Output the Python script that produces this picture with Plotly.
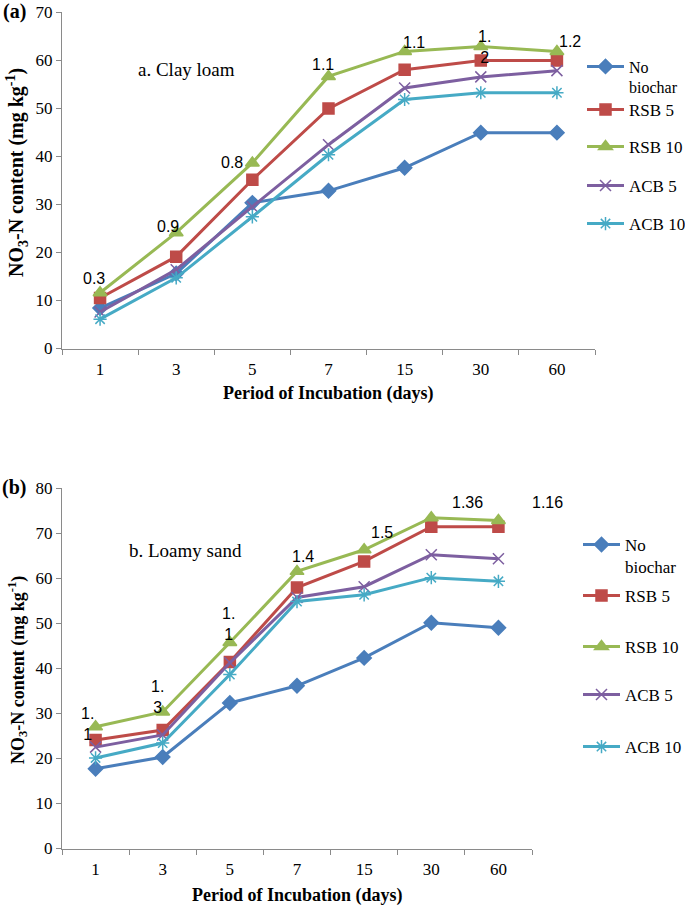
import plotly.graph_objects as go

days = ["1", "3", "5", "7", "15", "30", "60"]
series_names = ["No<br>biochar", "RSB 5", "RSB 10", "ACB 5", "ACB 10"]

# a. Clay loam
clay_no_biochar = [8.4, 15.6, 30.3, 32.8, 37.6, 44.9, 44.9]
clay_rsb5 = [10.5, 19.1, 35.1, 49.9, 58.0, 59.9, 59.9]
clay_rsb10 = [11.6, 24.1, 38.6, 56.6, 61.8, 62.8, 61.8]
clay_acb5 = [7.6, 16.4, 29.5, 42.4, 54.2, 56.5, 57.8]
clay_acb10 = [6.1, 14.7, 27.4, 40.3, 51.8, 53.2, 53.2]
clay_labels = ["0.3", "0.9", "0.8", "1.1", "1.1", "1.<br>2", "1.2"]

# b. Loamy sand
sand_no_biochar = [17.7, 20.3, 32.3, 36.1, 42.3, 50.1, 49.0]
sand_rsb5 = [24.1, 26.3, 41.4, 57.9, 63.7, 71.4, 71.4]
sand_rsb10 = [27.0, 30.3, 45.7, 61.5, 66.3, 73.4, 72.8]
sand_acb5 = [22.5, 25.2, 41.2, 55.7, 58.1, 65.2, 64.3]
sand_acb10 = [20.1, 23.4, 38.6, 54.8, 56.3, 60.1, 59.3]
sand_labels = ["1.<br>1", "1.<br>3", "1.<br>1", "1.4", "1.5", "1.36", "1.16"]

W, H = 685, 906
def px(x):
    return x / W
def py(y):
    return 1 - y / H

colors = ["#4A7EBB", "#BE4B48", "#98B954", "#7D5FA0", "#46AAC5"]
symbols = ["diamond", "square", "triangle-up", "x-thin-open", "asterisk-open"]
msizes = [11, 11, 12, 11, 11]

serif = "Liberation Serif"
sans = "Liberation Sans"

fig = go.Figure()

clay_sets = [clay_no_biochar, clay_rsb5, clay_rsb10, clay_acb5, clay_acb10]
sand_sets = [sand_no_biochar, sand_rsb5, sand_rsb10, sand_acb5, sand_acb10]

for i, vals in enumerate(clay_sets):
    lg = "legend" if i == 0 else f"legend{i+1}"
    fig.add_trace(go.Scatter(
        x=days, y=vals, name=series_names[i], mode="lines+markers",
        line=dict(color=colors[i], width=3),
        marker=dict(symbol=symbols[i], size=msizes[i], color=colors[i],
                    line=dict(color=colors[i], width=1.5)),
        xaxis="x", yaxis="y", legend=lg, showlegend=True))

for i, vals in enumerate(sand_sets):
    lg = f"legend{i+6}"
    fig.add_trace(go.Scatter(
        x=days, y=vals, name=series_names[i], mode="lines+markers",
        line=dict(color=colors[i], width=3),
        marker=dict(symbol=symbols[i], size=msizes[i], color=colors[i],
                    line=dict(color=colors[i], width=1.5)),
        xaxis="x2", yaxis="y2", legend=lg, showlegend=True))

axis_common = dict(showline=True, linecolor="#8A8A8A", linewidth=1, ticks="outside",
                   ticklen=5, tickcolor="#8A8A8A", showgrid=False, zeroline=False,
                   tickfont=dict(family=serif, size=17, color="black"))

fig.update_layout(
    width=W, height=H, margin=dict(l=0, r=0, t=0, b=0, autoexpand=False),
    paper_bgcolor="white", plot_bgcolor="white", showlegend=True,
    xaxis=dict(domain=[px(62), px(595)], anchor="y", type="category",
               range=[-0.5, 6.5], tickson="boundaries", ticklabelstandoff=5, **axis_common),
    yaxis=dict(domain=[py(348.5), py(12)], anchor="x", range=[0, 70], dtick=10, **axis_common),
    xaxis2=dict(domain=[px(62), px(532)], anchor="y2", type="category",
                range=[-0.5, 6.5], tickson="boundaries", ticklabelstandoff=5, **axis_common),
    yaxis2=dict(domain=[py(848.5), py(488)], anchor="x2", range=[0, 80], dtick=10, **axis_common),
)

# legends, one per entry to match spacing
top_leg_y = [77, 110, 147, 186, 224]
bot_leg_y = [556, 596, 647, 695, 747]
top_leg_size = [16, 17, 17, 17, 17]
for i in range(5):
    key = "legend" if i == 0 else f"legend{i+1}"
    fig.update_layout({key: dict(x=px(582), y=py(top_leg_y[i]), xanchor="left", yanchor="middle",
                                 xref="container", yref="container",
                                 valign="top", itemwidth=37, bgcolor="rgba(0,0,0,0)",
                                 font=dict(family=serif, size=top_leg_size[i], color="black"))})
for i in range(5):
    key = f"legend{i+6}"
    fig.update_layout({key: dict(x=px(578), y=py(bot_leg_y[i]), xanchor="left", yanchor="middle",
                                 xref="container", yref="container",
                                 valign="top", itemwidth=37, bgcolor="rgba(0,0,0,0)",
                                 font=dict(family=serif, size=17, color="black"))})

ann = []
# data labels on RSB 10 series (x given as category index)
clay_shift = [(-6, 14), (-8, 6), (-20, 0), (-6, 12), (9, 9), (4, 0), (13, 10)]
sand_shift = [(-8, 3), (-5, 15), (-1, 19), (6, 15), (18, 17), (36, 15), (49, 18)]
for j in range(len(days)):
    ann.append(dict(x=j, y=clay_rsb10[j], xref="x", yref="y", text=clay_labels[j],
                    showarrow=False, xshift=clay_shift[j][0], yshift=clay_shift[j][1],
                    xanchor="center", yanchor="middle",
                    font=dict(family=sans, size=16, color="black")))
    ann.append(dict(x=j, y=sand_rsb10[j], xref="x2", yref="y2", text=sand_labels[j],
                    showarrow=False, xshift=sand_shift[j][0], yshift=sand_shift[j][1],
                    xanchor="center", yanchor="middle",
                    font=dict(family=sans, size=16, color="black")))

paper_texts = [
    (14, 12, "<b>(a)</b>", 20, 0),
    (14, 487, "<b>(b)</b>", 20, 0),
    (187, 70, "a. Clay loam", 19, 0),
    (185, 550, "b. Loamy sand", 19, 0),
    (328, 393, "<b>Period of Incubation (days)</b>", 18, 0),
    (297, 895, "<b>Period of Incubation (days)</b>", 18, 0),
    (17, 173, "<b>NO<sub>3</sub>-N content (mg kg<sup>-1</sup>)</b>", 20, -90),
    (17, 670, "<b>NO<sub>3</sub>-N content (mg kg<sup>-1</sup>)</b>", 18, -90),
]
for (tx, ty, t, fs, ang) in paper_texts:
    ann.append(dict(x=px(tx), y=py(ty), xref="paper", yref="paper", text=t, showarrow=False,
                    xanchor="center", yanchor="middle", textangle=ang,
                    font=dict(family=serif, size=fs, color="black")))
fig.update_layout(annotations=ann)

fig.write_html("out.html", config={"displayModeBar": False},
               post_script="document.body.style.margin='0';")
